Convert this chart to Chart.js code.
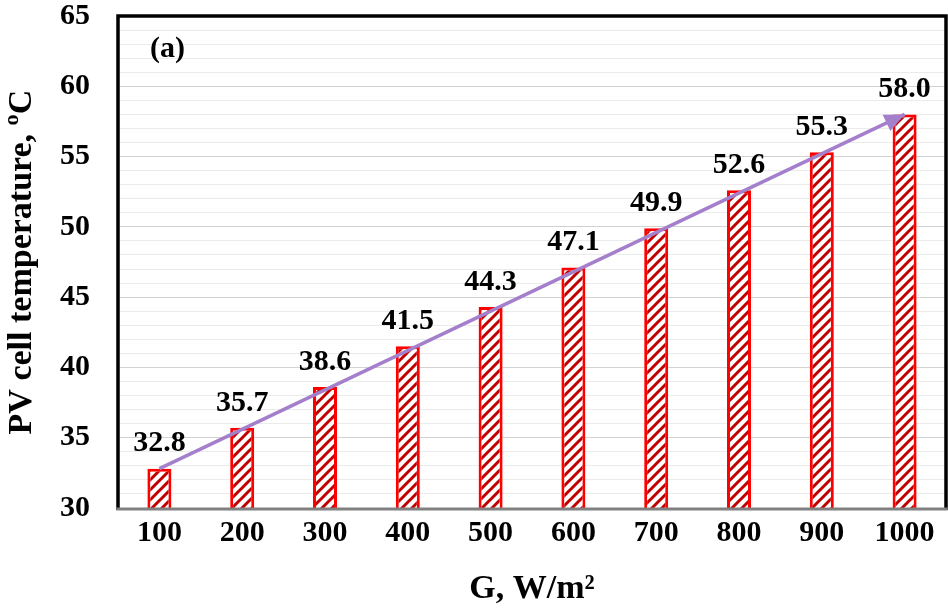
<!DOCTYPE html>
<html>
<head>
<meta charset="utf-8">
<script src="https://cdn.jsdelivr.net/npm/chart.js@4/dist/chart.umd.min.js"></script>
<style>
  html, body { margin: 0; padding: 0; background: #fff; }
  #wrap { width: 948px; height: 611px; }
</style>
</head>
<body>
<div id="wrap"><canvas id="c" width="948" height="611"></canvas></div>
<script>
// Solar irradiance levels (W/m²) and resulting PV cell temperature (°C)
const irradiance = ['100', '200', '300', '400', '500', '600', '700', '800', '900', '1000'];
const cellTemp = [32.8, 35.7, 38.6, 41.5, 44.3, 47.1, 49.9, 52.6, 55.3, 58.0];
// Trend arrow runs from the first to the last bar top
const trendArrow = [32.8, null, null, null, null, null, null, null, null, 58.0];
const yMin = 30, yMax = 65;

const SERIF = "'Liberation Serif', 'Times New Roman', serif";

// Diagonal hatch fill for the bars
function makeHatch() {
  const s = 10;
  const c = document.createElement('canvas');
  c.width = s; c.height = s;
  const g = c.getContext('2d');
  g.fillStyle = '#ffffff';
  g.fillRect(0, 0, s, s);
  g.strokeStyle = '#C00000';
  g.lineWidth = 3;
  g.beginPath();
  g.moveTo(-3, 3); g.lineTo(3, -3);
  g.moveTo(-1, s + 1); g.lineTo(s + 1, -1);
  g.moveTo(s - 3, s + 3); g.lineTo(s + 3, s - 3);
  g.stroke();
  return g.createPattern(c, 'repeat');
}

const ctx0 = document.getElementById('c').getContext('2d');
const hatch = makeHatch();

// Frame around the plot, the panel tag, the arrow head and the value labels
const decorations = {
  id: 'decorations',
  beforeDatasetsDraw(chart) {
    const { ctx, chartArea: a } = chart;
    ctx.save();
    ctx.strokeStyle = '#000';
    ctx.lineWidth = 3.5;
    ctx.beginPath();
    ctx.moveTo(a.left, a.bottom + 2);
    ctx.lineTo(a.left, a.top);
    ctx.lineTo(a.right, a.top);
    ctx.lineTo(a.right, a.bottom + 2);
    ctx.stroke();
    ctx.restore();
  },
  afterDatasetsDraw(chart) {
    const { ctx, chartArea: a } = chart;
    ctx.save();
    // bottom axis line
    ctx.strokeStyle = '#808080';
    ctx.lineWidth = 3;
    ctx.beginPath();
    ctx.moveTo(a.left - 1.5, a.bottom + 1);
    ctx.lineTo(a.right + 1.5, a.bottom + 1);
    ctx.stroke();

    // arrow head on the trend line
    const lm = chart.getDatasetMeta(1);
    const p0 = lm.data[0], p1 = lm.data[lm.data.length - 1];
    const ang = Math.atan2(p1.y - p0.y, p1.x - p0.x);
    const L = 20, W = 9;
    const bx = p1.x - L * Math.cos(ang), by = p1.y - L * Math.sin(ang);
    ctx.fillStyle = '#A480CC';
    ctx.beginPath();
    ctx.moveTo(p1.x, p1.y);
    ctx.lineTo(bx + W * Math.sin(ang), by - W * Math.cos(ang));
    ctx.lineTo(bx - W * Math.sin(ang), by + W * Math.cos(ang));
    ctx.closePath();
    ctx.fill();

    // value labels above bars
    const bm = chart.getDatasetMeta(0);
    ctx.fillStyle = '#000';
    ctx.font = 'bold 30px ' + SERIF;
    ctx.textAlign = 'center';
    ctx.textBaseline = 'middle';
    bm.data.forEach((bar, i) => {
      ctx.fillText(cellTemp[i].toFixed(1), bar.x, bar.y - 25);
    });

    // panel tag
    ctx.font = 'bold 30px ' + SERIF;
    ctx.textAlign = 'left';
    ctx.fillText('(a)', 150, 49);
    ctx.restore();
  }
};

new Chart(ctx0, {
  data: {
    labels: irradiance,
    datasets: [
      {
        type: 'bar',
        data: cellTemp,
        backgroundColor: hatch,
        borderColor: '#FF0000',
        borderWidth: 3,
        borderSkipped: false,
        categoryPercentage: 1,
        barPercentage: 0.29,
        order: 2
      },
      {
        type: 'line',
        data: trendArrow,
        spanGaps: true,
        borderColor: '#A480CC',
        borderWidth: 3.5,
        pointRadius: 0,
        fill: false,
        order: 1
      }
    ]
  },
  plugins: [decorations],
  options: {
    responsive: false,
    animation: false,
    events: [],
    layout: { padding: { top: 16, right: 2, left: 0, bottom: 0 } },
    plugins: {
      legend: { display: false },
      tooltip: { enabled: false }
    },
    scales: {
      x: {
        grid: { display: false, drawTicks: false },
        border: { display: false },
        ticks: {
          color: '#000',
          font: { family: SERIF, size: 30, weight: 'bold', lineHeight: 1 },
          padding: 10,
          maxRotation: 0,
          autoSkip: false
        },
        title: {
          display: true,
          text: 'G, W/m²',
          color: '#000',
          font: { family: SERIF, size: 34, weight: 'bold', lineHeight: 1.2 },
          padding: { top: 0, bottom: 1 }
        },
        afterFit(scale) { scale.height = 103; }
      },
      y: {
        min: yMin,
        max: yMax,
        grid: {
          drawTicks: false,
          lineWidth: 1,
          color: (c) => (c.tick && c.tick.value % 5 === 0) ? '#d2d2d2' : '#ebebeb'
        },
        border: { display: false },
        ticks: {
          stepSize: 1,
          autoSkip: false,
          color: '#000',
          font: { family: SERIF, size: 30, weight: 'bold', lineHeight: 1 },
          padding: 28,
          callback: (v) => (v % 5 === 0 ? String(v) : '')
        },
        title: {
          display: true,
          text: 'PV cell temperature, ºC',
          color: '#000',
          font: { family: SERIF, size: 34, weight: 'bold', lineHeight: 1.2 },
          padding: { top: 2, bottom: 0 }
        },
        afterFit(scale) {
          scale.width = 118;
          scale.paddingTop = 0;
          scale.paddingBottom = 0;
        }
      }
    }
  }
});
</script>
</body>
</html>
